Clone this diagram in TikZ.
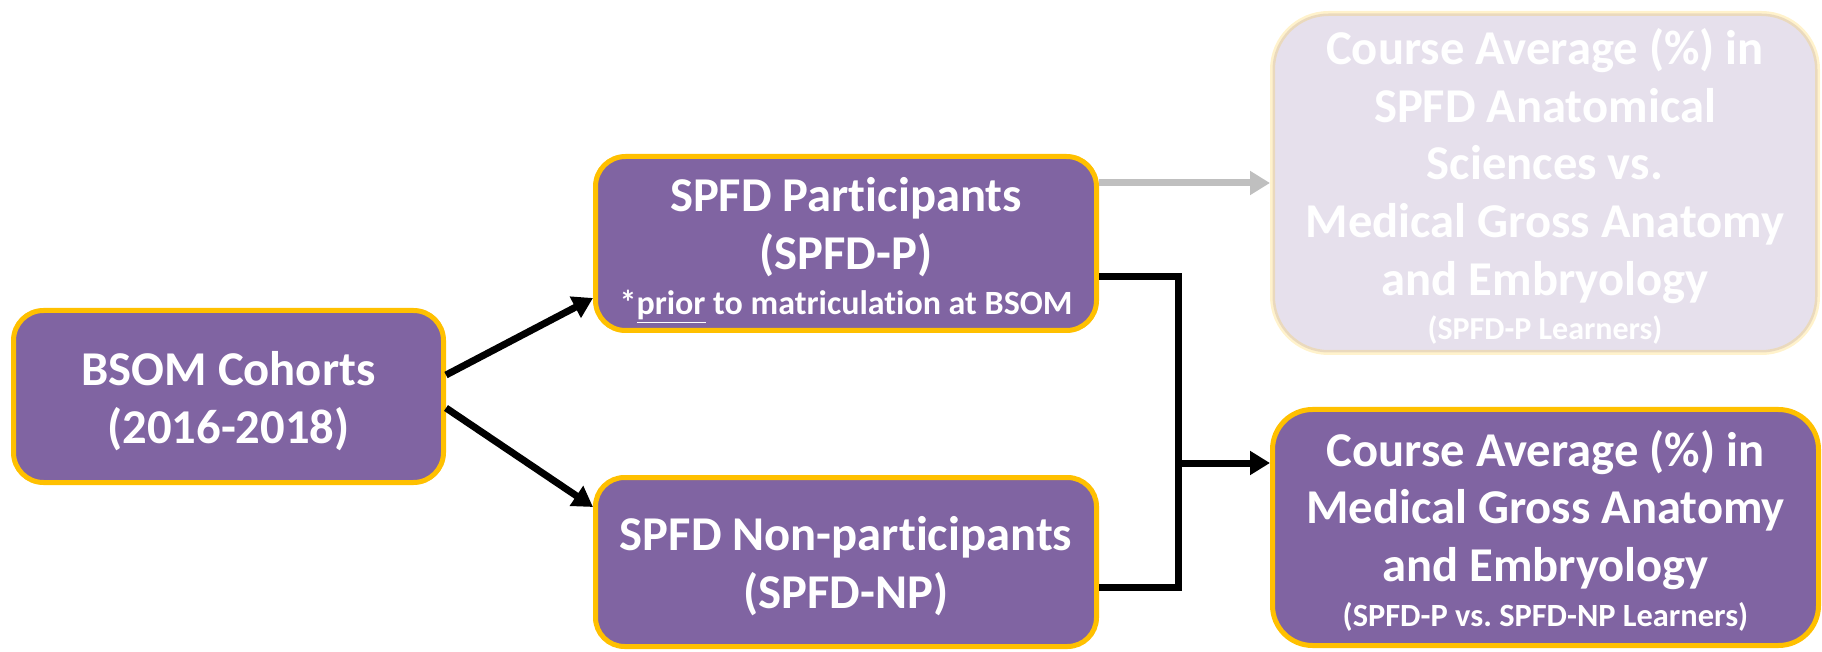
\documentclass[tikz,border=0pt]{standalone}
\usepackage{fontspec}
\setmainfont{Carlito}[Ligatures=NoCommon]
\usetikzlibrary{arrows.meta}
\frenchspacing
\definecolor{boxpurple}{HTML}{8064A2}
\definecolor{boxgold}{HTML}{FFC000}
\tikzset{
  box/.style={draw=boxgold, fill=boxpurple, line width=2.5pt, inner sep=0pt},
  boxtext/.style={text=white, font=\bfseries\fontsize{24.3}{28.8}\selectfont,
    align=center, inner sep=0pt},
  faded/.style={fill opacity=0.2, draw opacity=0.2},
  conn/.style={line width=3.5pt, draw=black, line join=miter},
  tip/.style={-{Triangle[length=10pt,width=11.5pt]}},
  greyconn/.style={line width=3.5pt, draw=black!25},
}
\begin{document}
\begin{tikzpicture}[x=0.5pt,y=-0.5pt]
\useasboundingbox (0,0) rectangle (1822,652);

% boxes
\node[box, minimum width=215pt, minimum height=86pt, rounded corners=15pt]
  (B) at (228.5,396.5) {};
\node[box, minimum width=250.5pt, minimum height=87pt, rounded corners=15pt]
  (P) at (846,243.5) {};
\node[box, minimum width=250.5pt, minimum height=84.5pt, rounded corners=14.5pt]
  (N) at (846,562) {};
\node[box, faded, minimum width=272.5pt, minimum height=169.5pt, rounded corners=28pt]
  (G) at (1545,183) {};
\node[box, minimum width=273pt, minimum height=118pt, rounded corners=20pt]
  (R) at (1545.5,527.5) {};

% box texts
\node[boxtext] (Bt) at ([yshift=-2.3pt]B.center) {BSOM Cohorts\\(2016-2018)};
\node[boxtext] (Pt) at ([yshift=-3.6pt]P.center) {SPFD Participants\\(SPFD-P)\\[-6.5pt]
  {\fontsize{17}{18}\selectfont *\underline{prior} to matriculation at BSOM}};
\node[boxtext] (Nt) at ([yshift=-2pt]N.center) {SPFD Non-participants\\(SPFD-NP)};
\node[boxtext] (Gt) at ([yshift=-1.8pt]G.center) {Course Average (\%) in\\SPFD Anatomical\\Sciences vs.\\Medical Gross Anatomy\\and Embryology\\[-6.5pt]
  {\fontsize{16}{18}\selectfont (SPFD-P Learners)}};
\node[boxtext] (Rt) at ([yshift=-1.6pt]R.center) {Course Average (\%) in\\Medical Gross Anatomy\\and Embryology\\[-6.5pt]
  {\fontsize{16.2}{18}\selectfont (SPFD-P vs. SPFD-NP Learners)}};

% connectors
\coordinate (J) at (1178,463);
\draw[conn, tip] ([yshift=10.75pt]B.east) -- ([yshift=-27.25pt]P.west);
\draw[conn, tip] ([yshift=-5.75pt]B.east) -- ([yshift=27.5pt]N.west);
\draw[greyconn, tip] (P.east |- G.west) -- (G.west);
\draw[conn] ([yshift=-16.75pt]P.east) -| (J) |- ([yshift=-12.5pt]N.east);
\draw[conn, tip] (J) -- (J -| R.west);
\end{tikzpicture}
\end{document}
